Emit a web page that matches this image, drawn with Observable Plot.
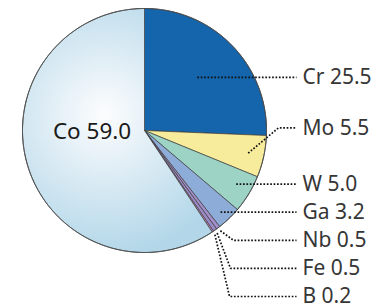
<!DOCTYPE html>
<html><head><meta charset="utf-8">
<script src="https://cdn.jsdelivr.net/npm/d3@7"></script>
<script src="https://cdn.jsdelivr.net/npm/@observablehq/plot@0.6"></script>
<style>body{margin:0;background:#fff}</style>
</head><body><div id="chart"></div>
<script>
// ---- data ----
const elements = ["Cr", "Mo", "W", "Ga", "Nb", "Fe", "B", "Co"];
const percents = [25.5, 5.5, 5.0, 3.2, 0.5, 0.5, 0.2, 59.0];
const labels = ["Cr 25.5", "Mo 5.5", "W 5.0", "Ga 3.2", "Nb 0.5", "Fe 0.5", "B 0.2", "Co 59.0"];

// ---- styles / layout ----
const colors = ["#1565ad", "#f7ec9b", "#9dd3c5", "#8eacd8", "#a28ecb", "#9a8ac6", "#c98ccb", "url(#coGrad)"];
const W = 389, H = 308, CX = 144, CY = 130, R = 122;          // pixel frame of the pie
const labelSlot = [7.8, 6, 4, 3, 2, 1, 0];                       // row of each outside label
const leaderRadius = [0.6, 0.87, 0.88, 0.9, 1.03, 1.03, 1.03];   // where leader starts (fraction of radius)
const elbowX = [null, 1.098, null, null, 0.73, 0.705, 0.697];     // elbow x (unit radius) or straight
const rowBottom = (CY - 296) / R, rowStep = 28.1 / R;
const leaderEnd = (296 - CX) / R, labelX = (302 - CX) / R;

// ---- pie geometry (unit circle, angle clockwise from 12 o'clock) ----
const total = d3.sum(percents);
let acc = 0;
const slices = percents.map((v, i) => {
  const a0 = acc / total * 2 * Math.PI; acc += v;
  const a1 = acc / total * 2 * Math.PI;
  const n = Math.max(2, Math.ceil((a1 - a0) / (Math.PI / 360)));
  const pts = [{x: 0, y: 0}];
  for (let k = 0; k <= n; k++) {
    const a = a0 + (a1 - a0) * k / n;
    pts.push({x: Math.sin(a), y: Math.cos(a)});
  }
  pts.push({x: 0, y: 0});
  return {name: elements[i], a0, a1, mid: (a0 + a1) / 2, pts, color: colors[i]};
});
const circle = d3.range(0, 721).map(k => ({x: Math.sin(k * Math.PI / 360), y: Math.cos(k * Math.PI / 360)}));

// labels and leaders for the outside labels (all but Co)
const labelRows = [];
const leaders = [];
labelSlot.forEach((slot, i) => {
  const s = slices[i];
  const ly = rowBottom + slot * rowStep;
  labelRows.push({x: labelX, y: ly, text: labels[i]});
  const ax = leaderRadius[i] * Math.sin(s.mid), ay = leaderRadius[i] * Math.cos(s.mid);
  if (elbowX[i] == null) {
    leaders.push({name: s.name, x: ax, y: ly}, {name: s.name, x: leaderEnd, y: ly});
  } else {
    leaders.push({name: s.name, x: ax, y: ay}, {name: s.name, x: elbowX[i], y: ly}, {name: s.name, x: leaderEnd, y: ly});
  }
});

const plot = Plot.plot({
  width: W, height: H, margin: 0,
  style: {background: "#fff", fontFamily: "Noto Sans"},
  x: {domain: [-CX / R, (W - CX) / R], axis: null},
  y: {domain: [(CY - H) / R, CY / R], axis: null},
  marks: [
    ...slices.map(s => Plot.line(s.pts, {x: "x", y: "y", fill: s.color, stroke: "#3c3c3c", strokeWidth: 0.7, strokeLinejoin: "round"})),
    Plot.line(circle, {x: "x", y: "y", stroke: "#4a4a4a", strokeWidth: 1}),
    Plot.line(leaders, {x: "x", y: "y", z: "name", stroke: "#111", strokeWidth: 1.7, strokeLinecap: "butt", strokeLinejoin: "miter", strokeDasharray: "1.7 1.7"}),
    Plot.text(labelRows, {x: "x", y: "y", text: "text", textAnchor: "start", fontSize: 21, fill: "#363636"}),
    Plot.text([labels[7]], {x: [-0.43], y: [-0.012], text: d => d, fontSize: 22.5, fill: "#1a1a1a"})
  ]
});

// radial gradient for the Co slice, placed through the plot's scales
const sx = plot.scale("x"), sy = plot.scale("y");
const gx = sx.apply(-0.33), gy = sy.apply(0.13);
const defs = d3.select(plot).insert("defs", ":first-child");
const g = defs.append("radialGradient").attr("id", "coGrad").attr("gradientUnits", "userSpaceOnUse")
  .attr("cx", gx).attr("cy", gy).attr("r", 140);
g.append("stop").attr("offset", 0).attr("stop-color", "#fcfdfe");
g.append("stop").attr("offset", 0.18).attr("stop-color", "#f0f6fa");
g.append("stop").attr("offset", 1).attr("stop-color", "#b3d7e9");

document.getElementById("chart").append(plot);
</script>
</body></html>
